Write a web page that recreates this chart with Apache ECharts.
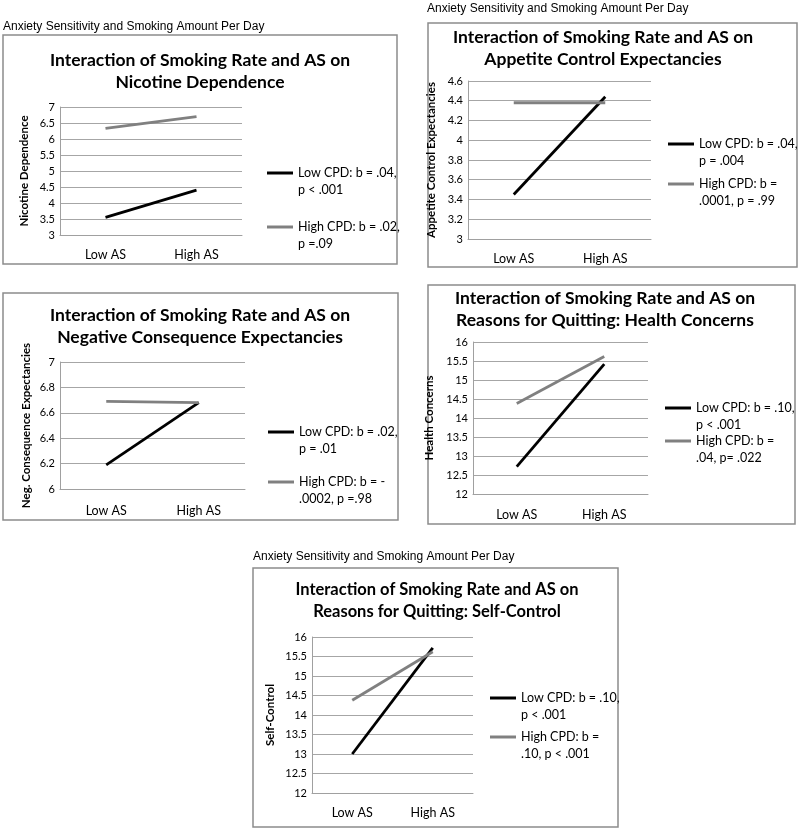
<!DOCTYPE html>
<html>
<head>
<meta charset="utf-8">
<script src="https://cdn.jsdelivr.net/npm/echarts@6/dist/echarts.min.js"></script>
<style>html,body{margin:0;padding:0;background:#fff;}#c{width:800px;height:829px;}</style>
</head>
<body>
<div id="c"></div>
<script>
// ---------- data ----------
const categories = ['Low AS', 'High AS'];
const headerText = 'Anxiety Sensitivity and Smoking Amount Per Day';

const titles = [
  'Interaction of Smoking Rate and AS on\nNicotine Dependence',
  'Interaction of Smoking Rate and AS on\nAppetite Control Expectancies',
  'Interaction of Smoking Rate and AS on\nNegative Consequence Expectancies',
  'Interaction of Smoking Rate and AS on\nReasons for Quitting: Health Concerns',
  'Interaction of Smoking Rate and AS on\nReasons for Quitting: Self-Control'
];
const yNames = ['Nicotine Dependence', 'Appetite Control Expectancies', 'Neg. Consequence Expectancies', 'Health Concerns', 'Self-Control'];

const yMin = [3, 3, 6, 12, 12];
const yMax = [7, 4.6, 7, 16, 16];
const yStep = [0.5, 0.2, 0.2, 0.5, 0.5];

const lowLegend = [
  'Low CPD: b = .04,\np < .001',
  'Low CPD: b = .04,\np = .004',
  'Low CPD: b = .02,\np = .01',
  'Low CPD: b = .10,\np < .001',
  'Low CPD: b = .10,\np < .001 '
];
const highLegend = [
  'High CPD: b = .02,\np =.09',
  'High CPD: b =\n.0001, p = .99',
  'High CPD: b = -\n.0002, p =.98',
  'High CPD: b =\n.04, p= .022',
  'High CPD: b =\n.10, p < .001'
];

const lowNicotine = [3.55, 4.40];
const highNicotine = [6.33, 6.70];
const lowAppetite = [3.45, 4.44];
const highAppetite = [4.38, 4.38];
const lowNegCons = [6.19, 6.68];
const highNegCons = [6.69, 6.68];
const lowHealth = [12.72, 15.42];
const highHealth = [14.38, 15.62];
const lowSelfCtrl = [13.00, 15.72];
const highSelfCtrl = [14.38, 15.62];

const lowSeries = [lowNicotine, lowAppetite, lowNegCons, lowHealth, lowSelfCtrl];
const highSeries = [highNicotine, highAppetite, highNegCons, highHealth, highSelfCtrl];

// ---------- layout ----------
const panels = [
  {box: [3, 35, 394, 229], grid: [60, 107, 182, 128], titleX: 200, titleY: 49, tSize: 17.5, nameGap: 30, catY: 253, leg: [267, 173, 227]},
  {box: [428, 23, 369, 244], grid: [468, 81, 183, 158], titleX: 603, titleY: 26, tSize: 17.5, nameGap: 31, catY: 257, leg: [668, 144, 184]},
  {box: [3, 293, 395, 227], grid: [60, 362, 185, 127], titleX: 200, titleY: 304, tSize: 17.5, nameGap: 28, catY: 509, leg: [268, 432, 482]},
  {box: [428, 285, 367, 239], grid: [473, 342, 175, 152], titleX: 605, titleY: 287, tSize: 17.5, nameGap: 38, catY: 513, leg: [665, 408, 441]},
  {box: [253, 568, 365, 259], grid: [312, 637, 161, 156], titleX: 437, titleY: 579, tSize: 16.5, nameGap: 36, catY: 811, leg: [490, 698, 737]}
];
const headers = [[3, 27], [427, 9], [253, 557]];

const FONT = 'Lato';
const LH = 17;
const option = {
  backgroundColor: '#fff',
  animation: false,
  title: [], grid: [], xAxis: [], yAxis: [], series: [], legend: [],
  graphic: []
};

panels.forEach((p, i) => {
  option.graphic.push({
    type: 'rect', shape: {x: p.box[0], y: p.box[1], width: p.box[2], height: p.box[3]},
    style: {fill: 'none', stroke: '#8c8c8c', lineWidth: 1.5}, z: 0
  });
  option.title.push({
    text: titles[i], left: p.titleX, top: p.titleY, textAlign: 'center', padding: 0,
    textStyle: {fontFamily: FONT, fontWeight: 'bold', fontSize: p.tSize, lineHeight: 22, color: '#000'}
  });
  option.grid.push({left: p.grid[0], top: p.grid[1], width: p.grid[2], height: p.grid[3], containLabel: false});
  option.xAxis.push({
    type: 'category', gridIndex: i, data: categories, boundaryGap: true,
    axisLine: {show: true, lineStyle: {color: '#a0a0a0', width: 1}},
    axisTick: {show: false},
    axisLabel: {fontFamily: FONT, fontSize: 12.5, color: '#000', margin: p.catY - (p.grid[1] + p.grid[3]) - 5}
  });
  option.yAxis.push({
    type: 'value', gridIndex: i, min: yMin[i], max: yMax[i], interval: yStep[i],
    name: yNames[i], nameLocation: 'middle', nameRotate: 90, nameGap: p.nameGap,
    nameTextStyle: {fontFamily: FONT, fontWeight: 'bold', fontSize: 11.5, color: '#000'},
    axisLine: {show: true, lineStyle: {color: '#a0a0a0', width: 1}},
    axisTick: {show: false},
    splitLine: {show: true, lineStyle: {color: '#a6a6a6', width: 1}},
    axisLabel: {fontFamily: FONT, fontSize: 11, color: '#000', margin: 5,
      formatter: v => String(Math.round(v * 100) / 100)}
  });
  option.series.push({
    type: 'line', name: lowLegend[i], xAxisIndex: i, yAxisIndex: i, data: lowSeries[i],
    symbol: 'none', color: '#000', lineStyle: {color: '#000', width: 2.8}, z: 3
  });
  option.series.push({
    type: 'line', name: highLegend[i], xAxisIndex: i, yAxisIndex: i, data: highSeries[i],
    symbol: 'none', color: '#808080', lineStyle: {color: '#808080', width: 2.8}, z: 4
  });
  [[lowLegend[i], p.leg[1]], [highLegend[i], p.leg[2]]].forEach(([nm, y]) => {
    option.legend.push({
      data: [nm], left: p.leg[0], top: y - 1.5 * LH, padding: 0, selectedMode: false,
      icon: 'rect', itemWidth: 26, itemHeight: 3,
      formatter: name => ' \n' + name,
      textStyle: {fontFamily: FONT, fontSize: 12.5, lineHeight: LH, color: '#000'}
    });
  });
});
headers.forEach(h => {
  option.graphic.push({
    type: 'text', x: h[0], y: h[1],
    style: {text: headerText, font: '12px "Liberation Sans", Arial, sans-serif', fill: '#000', verticalAlign: 'middle'}
  });
});

const chart = echarts.init(document.getElementById('c'), null, {renderer: 'canvas'});
chart.setOption(option);
</script>
</body>
</html>
